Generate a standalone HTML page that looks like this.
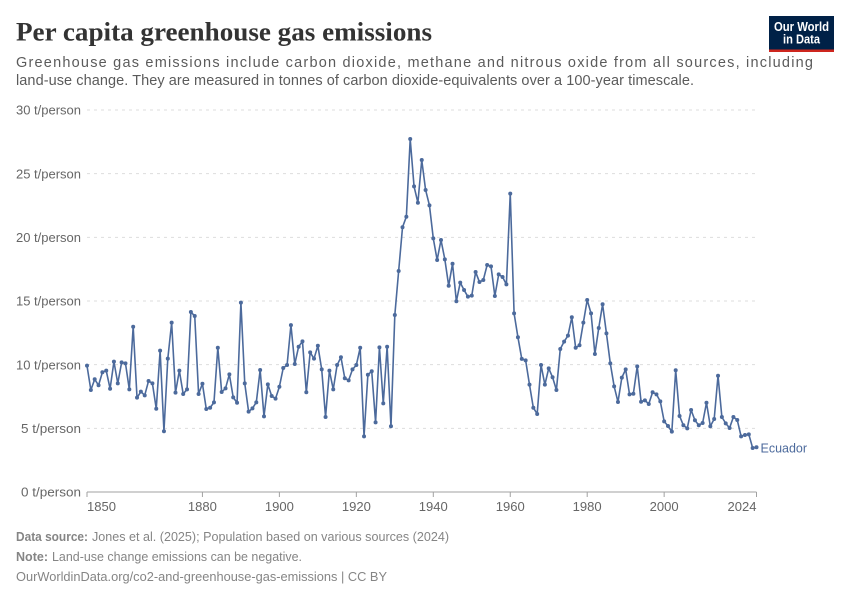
<!DOCTYPE html>
<html lang="en">
<head>
<meta charset="utf-8">
<title>Per capita greenhouse gas emissions</title>
<style>
html,body{margin:0;padding:0;background:#fff;width:850px;height:600px;overflow:hidden}
svg{display:block}
text{font-family:"Liberation Sans",sans-serif}
</style>
</head>
<body>
<svg id="chart" xmlns="http://www.w3.org/2000/svg" width="850" height="600" viewBox="0 0 850 600">
<rect width="850" height="600" fill="#fff"/>
<text x="16" y="40.5" font-size="26" font-weight="700" fill="#333333" style="font-family:'Liberation Serif',serif" textLength="416" lengthAdjust="spacingAndGlyphs">Per capita greenhouse gas emissions</text>
<text x="16" y="67" font-size="14.5" fill="#5b5b5b" textLength="797" lengthAdjust="spacing">Greenhouse gas emissions include carbon dioxide, methane and nitrous oxide from all sources, including</text>
<text x="16" y="85" font-size="14.5" fill="#5b5b5b" textLength="678" lengthAdjust="spacing">land-use change. They are measured in tonnes of carbon dioxide-equivalents over a 100-year timescale.</text>
<g>
<rect x="769" y="16" width="65" height="36" fill="#002147"/>
<rect x="769" y="49.5" width="65" height="2.5" fill="#ce261e"/>
<text x="801.5" y="31" font-size="12.5" font-weight="700" fill="#fff" text-anchor="middle" textLength="55" lengthAdjust="spacingAndGlyphs">Our World</text>
<text x="801.5" y="43.5" font-size="12.5" font-weight="700" fill="#fff" text-anchor="middle" textLength="37" lengthAdjust="spacingAndGlyphs">in Data</text>
</g>
<g id="grid"></g>
<g id="yticks"></g>
<g id="xaxis"></g>
<g id="series"></g>
<g>
<text x="16" y="541" font-size="13" font-weight="700" fill="#858585" textLength="72" lengthAdjust="spacingAndGlyphs">Data source:</text>
<text x="92" y="541" font-size="13" fill="#858585" textLength="357" lengthAdjust="spacingAndGlyphs">Jones et al. (2025); Population based on various sources (2024)</text>
<text x="16" y="561" font-size="13" font-weight="700" fill="#858585" textLength="32" lengthAdjust="spacingAndGlyphs">Note:</text>
<text x="52" y="561" font-size="13" fill="#858585" textLength="250" lengthAdjust="spacingAndGlyphs">Land-use change emissions can be negative.</text>
<text x="16" y="581" font-size="13" fill="#858585" textLength="371" lengthAdjust="spacingAndGlyphs">OurWorldinData.org/co2-and-greenhouse-gas-emissions | CC BY</text>
</g>
</svg>
<script>
const startYear = 1850;
const seriesName = "Ecuador";
const values = [
9.92,8.01,8.85,8.38,9.40,9.53,8.11,10.24,8.53,10.18,
10.10,8.06,12.98,7.41,7.88,7.59,8.72,8.53,6.54,11.10,
4.77,10.47,13.30,7.80,9.53,7.70,8.06,14.14,13.82,7.70,
8.50,6.52,6.62,7.04,11.33,7.85,8.14,9.24,7.43,7.01,
14.87,8.53,6.31,6.57,7.04,9.58,5.94,8.45,7.54,7.33,
8.27,9.74,9.97,13.11,10.05,11.41,11.83,7.83,10.97,10.47,
11.49,9.63,5.89,9.53,8.06,9.97,10.58,8.93,8.77,9.63,
9.97,11.33,4.37,9.21,9.48,5.47,11.36,6.96,11.41,5.16,
13.90,17.36,20.79,21.62,27.72,24.00,22.72,26.07,23.72,22.51,
19.92,18.22,19.79,18.27,16.20,17.93,14.98,16.44,15.86,15.34,
15.42,17.28,16.49,16.65,17.83,17.72,15.39,17.09,16.88,16.31,
23.43,14.03,12.15,10.45,10.34,8.43,6.62,6.13,9.97,8.43,
9.71,9.01,8.01,11.23,11.81,12.28,13.72,11.33,11.52,13.30,
15.08,14.03,10.84,12.88,14.74,12.46,10.10,8.30,7.07,8.98,
9.63,7.67,7.72,9.87,7.09,7.20,6.91,7.83,7.67,7.12,
5.55,5.18,4.74,9.56,5.97,5.24,5.00,6.44,5.63,5.24,
5.42,7.01,5.16,5.73,9.13,5.89,5.39,5.03,5.89,5.65,
4.37,4.48,4.53,3.46,3.51
];
const yTicks = [0, 5, 10, 15, 20, 25, 30];
const xTicks = [1850, 1880, 1900, 1920, 1940, 1960, 1980, 2000, 2024];

const NS = "http://www.w3.org/2000/svg";
const lastYear = startYear + values.length - 1;
function xScale(year) { return 87 + (year - 1850) * (756.5 - 87) / (2024 - 1850); }
function yScale(v) { return 492 - v * (492 - 110) / 30; }
function mk(tag, attrs, parent, txt) {
  const el = document.createElementNS(NS, tag);
  for (const k in attrs) el.setAttribute(k, attrs[k]);
  if (txt !== undefined) el.textContent = txt;
  parent.appendChild(el);
  return el;
}

const grid = document.getElementById("grid");
const yAxis = document.getElementById("yticks");
yTicks.forEach(function (t) {
  const y = yScale(t);
  if (t !== 0) {
    const g = mk("line", {x1: 87, x2: 756.5, y1: y, y2: y, stroke: "#dddddd", "stroke-width": 1, "stroke-dasharray": "3,4"}, grid);
    
    
  }
  const lab = mk("text", {x: 81, y: y + 4.6, "font-size": 13, fill: "#666666", "text-anchor": "end", textLength: t >= 10 ? 65 : 60, lengthAdjust: "spacingAndGlyphs"}, yAxis, t + " t/person");
  
  
});

const xAxis = document.getElementById("xaxis");
const baseline = mk("line", {x1: 87, x2: 756.5, y1: 492, y2: 492, stroke: "#a1a1a1", "stroke-width": 1}, xAxis);


xTicks.forEach(function (yr, i) {
  const x = xScale(yr);
  const tick = mk("line", {x1: x, x2: x, y1: 492, y2: 497, stroke: "#a1a1a1", "stroke-width": 1}, xAxis);
  
  
  const anchor = i === 0 ? "start" : (i === xTicks.length - 1 ? "end" : "middle");
  const lab = mk("text", {x: x, y: 511, "font-size": 13, fill: "#666666", "text-anchor": anchor, textLength: 29, lengthAdjust: "spacingAndGlyphs"}, xAxis, String(yr));
  
  
});

const series = document.getElementById("series");
const color = "#4c6a9c";
const pts = values.map(function (v, i) { return xScale(startYear + i).toFixed(2) + "," + yScale(v).toFixed(2); });
const path = mk("polyline", {points: pts.join(" "), fill: "none", stroke: color, "stroke-width": 1.6, "stroke-linejoin": "round"}, series);


values.forEach(function (v, i) {
  const c = mk("circle", {cx: xScale(startYear + i), cy: yScale(v), r: 2, fill: color}, series);
  
  
});
const endLabel = mk("text", {x: 760.5, y: yScale(values[values.length - 1]) + 5, "font-size": 13, fill: color, textLength: 46.5, lengthAdjust: "spacingAndGlyphs"}, series, seriesName);


</script>
</body>
</html>
